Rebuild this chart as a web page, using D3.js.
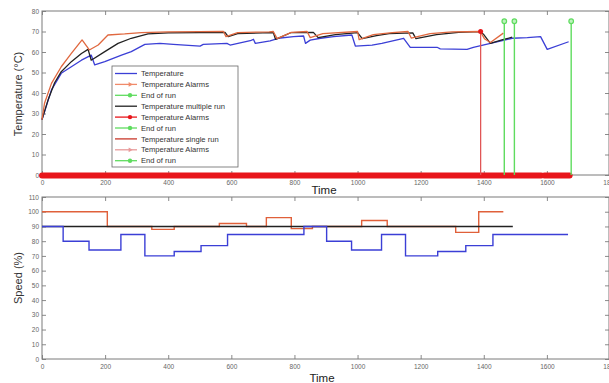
<!DOCTYPE html>
<html>
<head>
<meta charset="utf-8">
<script src="https://cdn.jsdelivr.net/npm/d3@7"></script>
<style>
    body { margin: 0; background: #fff; }
    svg { display: block; font-family: "Liberation Sans", Arial, sans-serif; }
    .tick text { fill: #666; font-size: 6.5px; }
    .tick line { stroke: #8a8a8a; }
    .domain { stroke: none; }
</style>
</head>
<body>
<div id="chart"></div>
<script>
// tick values
const timeTicks = [0, 200, 400, 600, 800, 1000, 1200, 1400, 1600, 1800];
const tempTicks = [0, 10, 20, 30, 40, 50, 60, 70, 80];
const speedTicks = [0, 10, 20, 30, 40, 50, 60, 70, 80, 90, 100, 110];

// temperature series [time, degC]
const tempSingle = [[0, 27], [8, 35], [30, 44.7], [61, 52.8], [93, 59.3], [127, 65.9], [150, 61], [178, 63.4],
    [209, 68.3], [262, 68.8], [315, 69.5], [400, 69.8], [500, 69.9], [575, 70], [583, 67.5], [620, 69.5],
    [720, 69.8], [733, 70], [745, 66.5], [790, 69.6], [840, 70], [850, 67], [890, 69], [1000, 70],
    [1005, 66], [1050, 68.5], [1110, 69.5], [1160, 70], [1170, 66.8], [1230, 69], [1300, 69.8], [1389, 70],
    [1402, 66.5], [1421, 64.6], [1462, 69.2]];
const tempMultiple = [[0, 27], [20, 37], [40, 45], [61, 50.4], [93, 55.3], [125, 59.3], [146, 61.3], [156, 56],
    [199, 60.2], [241, 64.2], [283, 66.7], [336, 68.8], [400, 69.3], [500, 69.5], [580, 69.6], [590, 67.5],
    [620, 69], [700, 69.3], [733, 69.5], [740, 66.2], [790, 69.5], [860, 69.6], [875, 67], [930, 68.5],
    [1000, 69.5], [1015, 66.5], [1060, 68], [1100, 69], [1175, 69.3], [1185, 66.5], [1250, 68.5],
    [1320, 69.6], [1389, 69.9], [1400, 68.5], [1421, 64.2], [1460, 66], [1490, 67.2]];
const tempBlue = [[0, 27], [3, 28.4], [30, 41.5], [61, 49.6], [93, 52.8], [125, 56], [156, 58.5], [167, 53.7],
    [199, 55.3], [252, 58.5], [283, 60.2], [326, 63.7], [374, 64.2], [416, 63.7], [501, 62.9], [511, 63.7],
    [586, 64.2], [596, 63.4], [660, 65.5], [670, 66.2], [676, 64.2], [723, 65.4], [749, 66.7], [797, 67.5],
    [829, 67.8], [835, 64.2], [850, 65.8], [883, 66.7], [924, 67.5], [982, 68.3], [993, 62.9], [1046, 63.4],
    [1077, 64.2], [1146, 66.7], [1167, 62.3], [1252, 62.3], [1262, 61.5], [1347, 61.3], [1367, 62.3],
    [1421, 64.2], [1490, 66.7], [1538, 67], [1580, 67.5], [1601, 61.3], [1669, 65]];

// alarm band at 0 degC, alarm line and end-of-run lines
const alarmBand = [[0, 1582], [1592, 1672]];
const alarmTime = 1390, alarmTemp = 70;
const endTimes = [1465, 1497, 1677];
const endTemp = 75;

// speed series, steps [time, %]
const speedBlue = [[0, 90], [67, 80], [149, 74], [250, 84.5], [326, 70], [419, 73], [504, 77], [588, 84.5],
    [830, 90], [902, 80], [981, 74], [1076, 84.5], [1152, 70], [1254, 73], [1343, 77], [1429, 84.5], [1667, 84.5]];
const speedRed = [[0, 100], [207, 90], [348, 88], [419, 90], [562, 92], [648, 90], [711, 96], [790, 88.5],
    [857, 90], [1013, 94], [1094, 90], [1311, 86], [1384, 100], [1462, 100]];
const speedBlack = [[0, 90], [1492, 90]];

const legendLabels = ['Temperature', 'Temperature Alarms', 'End of run', 'Temperature multiple run',
    'Temperature Alarms', 'End of run', 'Temperature single run', 'Temperature Alarms', 'End of run'];

const blue = '#3b3fd6', black = '#222', orange = '#e0683f', red = '#e8161b', green = '#5fdc5f';
const legendStyles = [
    {color: blue}, {color: '#f08a6a', marker: 'tri'}, {color: green, marker: 'dot'},
    {color: black}, {color: red, marker: 'dot'}, {color: green, marker: 'dot'},
    {color: '#c8382a'}, {color: '#e89a9a', marker: 'tri'}, {color: green, marker: 'dot'}
];

const width = 609, height = 383;
const svg = d3.select('#chart').append('svg').attr('width', width).attr('height', height);

const x = d3.scaleLinear().domain([0, 1800]).range([42, 610]);
const yTemp = d3.scaleLinear().domain([0, 80]).range([175, 11]);
const ySpeed = d3.scaleLinear().domain([0, 110]).range([359, 197]);

function drawFrame(y, yTicks) {
    const [y0, y1] = y.range();
    const g = svg.append('g');
    g.append('g').attr('transform', `translate(0,${y0})`)
        .call(d3.axisBottom(x).tickValues(timeTicks).tickSize(-4).tickPadding(5).tickFormat(d3.format('d')));
    g.append('g').attr('transform', `translate(0,${y1})`)
        .call(d3.axisTop(x).tickValues(timeTicks).tickSize(-4).tickFormat(''));
    g.append('g').attr('transform', `translate(${x.range()[0]},0)`)
        .call(d3.axisLeft(y).tickValues(yTicks).tickSize(-4).tickPadding(3));
    g.append('g').attr('transform', `translate(${x.range()[1] - 1},0)`)
        .call(d3.axisRight(y).tickValues(yTicks).tickSize(-4).tickFormat(''));
    g.append('rect')
        .attr('x', x.range()[0]).attr('y', y1)
        .attr('width', x.range()[1] - x.range()[0] - 1).attr('height', y0 - y1)
        .attr('fill', 'none').attr('stroke', '#7a7a7a').attr('stroke-width', 1);
}

drawFrame(yTemp, tempTicks);
drawFrame(ySpeed, speedTicks);

// Temperature lines
const tempLine = d3.line().x(d => x(d[0])).y(d => yTemp(d[1]));
[[tempBlue, blue], [tempMultiple, black], [tempSingle, orange]].forEach(([data, color]) => {
    svg.append('path').datum(data)
        .attr('d', tempLine)
        .attr('fill', 'none').attr('stroke', color).attr('stroke-width', 1.3)
        .attr('stroke-linejoin', 'round');
});

// Alarm band along 0
svg.selectAll('.band').data(alarmBand).enter().append('line')
    .attr('x1', d => x(d[0])).attr('x2', d => x(d[1]))
    .attr('y1', yTemp(0) + 0.5).attr('y2', yTemp(0) + 0.5)
    .attr('stroke', red).attr('stroke-width', 6).attr('stroke-linecap', 'round');

// Alarm vertical
svg.append('line')
    .attr('x1', x(alarmTime)).attr('x2', x(alarmTime))
    .attr('y1', yTemp(0)).attr('y2', yTemp(alarmTemp))
    .attr('stroke', '#e05555').attr('stroke-width', 1.3);
svg.append('circle').attr('cx', x(alarmTime)).attr('cy', yTemp(alarmTemp)).attr('r', 2.5).attr('fill', red);

// End of run lines
svg.selectAll('.end').data(endTimes).enter().append('line')
    .attr('x1', d => x(d)).attr('x2', d => x(d))
    .attr('y1', yTemp(0)).attr('y2', yTemp(endTemp))
    .attr('stroke', green).attr('stroke-width', 1.4);
svg.selectAll('.endDot').data(endTimes).enter().append('circle')
    .attr('cx', d => x(d)).attr('cy', yTemp(endTemp)).attr('r', 2.3)
    .attr('fill', '#bdf2bd').attr('stroke', green).attr('stroke-width', 1.2);

// Speed lines
const speedLine = d3.line().x(d => x(d[0])).y(d => ySpeed(d[1])).curve(d3.curveStepAfter);
[[speedRed, '#e0603a'], [speedBlack, black], [speedBlue, blue]].forEach(([data, color]) => {
    svg.append('path').datum(data)
        .attr('d', speedLine)
        .attr('fill', 'none').attr('stroke', color).attr('stroke-width', 1.4);
});

// Axis titles
svg.append('text').attr('transform', 'translate(22,94) rotate(-90)')
    .attr('text-anchor', 'middle').attr('font-size', 11).attr('fill', '#333')
    .text('Temperature (°C)');
svg.append('text').attr('transform', 'translate(22,278) rotate(-90)')
    .attr('text-anchor', 'middle').attr('font-size', 11).attr('fill', '#333')
    .text('Speed (%)');
svg.append('text').attr('x', 324).attr('y', 194)
    .attr('text-anchor', 'middle').attr('font-size', 11.5).attr('fill', '#222').text('Time');
svg.append('text').attr('x', 322).attr('y', 382)
    .attr('text-anchor', 'middle').attr('font-size', 11.5).attr('fill', '#222').text('Time');

// Legend
const legend = svg.append('g').attr('transform', 'translate(112,66)');
legend.append('rect').attr('width', 126).attr('height', 101)
    .attr('fill', '#fff').attr('stroke', '#666').attr('stroke-width', 0.8);
const rows = legend.selectAll('.row').data(legendLabels.map((label, i) => ({label, style: legendStyles[i]})))
    .enter().append('g')
    .attr('transform', (d, i) => `translate(0,${7.5 + i * 10.9})`);
rows.append('line').attr('x1', 3).attr('x2', 25).attr('y1', 0).attr('y2', 0)
    .attr('stroke', d => d.style.color).attr('stroke-width', 1.3);
rows.filter(d => d.style.marker === 'dot').append('circle')
    .attr('cx', 18).attr('cy', 0).attr('r', 2.2)
    .attr('fill', d => d.style.color);
rows.filter(d => d.style.marker === 'tri').append('path')
    .attr('d', d3.symbol().type(d3.symbolTriangle).size(10))
    .attr('transform', 'translate(18,0) rotate(90)')
    .attr('fill', d => d.style.color);
rows.append('text').attr('x', 29).attr('y', 2.6)
    .attr('font-size', 7.6).attr('fill', '#333').text(d => d.label);
</script>
</body>
</html>
